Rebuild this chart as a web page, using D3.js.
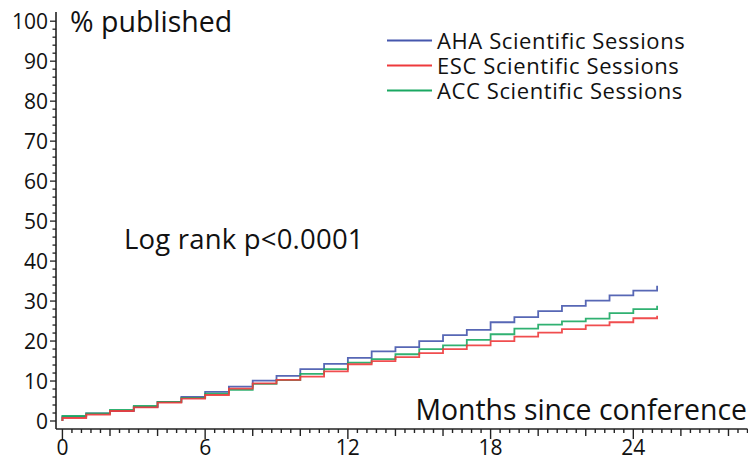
<!DOCTYPE html>
<html><head><meta charset="utf-8">
<script src="https://cdn.jsdelivr.net/npm/d3@7"></script>
<style>
html,body{margin:0;padding:0;background:#fff;}
svg text{font-family:"Open Sans",sans-serif;fill:#111;}
</style></head>
<body><svg id="c" width="748" height="460"></svg>
<script>
const months = d3.range(0, 26);
const ahaValues = [1.1,1.9,2.5,3.5,4.8,6.0,7.3,8.6,10.1,11.3,13.0,14.3,15.8,17.4,18.5,20.0,21.5,22.8,24.7,26.0,27.5,28.8,30.1,31.4,32.6,33.8];
const accValues = [1.25,1.9,2.75,3.75,4.8,5.8,6.85,7.8,9.3,10.2,11.8,13.0,14.6,15.5,16.7,18.0,18.9,20.3,21.7,23.1,24.1,24.9,25.6,27.0,28.0,28.8];
const escValues = [0.75,1.6,2.5,3.4,4.6,5.6,6.5,8.1,9.4,10.3,11.1,12.4,14.2,15.0,16.0,17.0,18.0,18.9,20.0,21.1,22.1,23.0,23.9,24.7,25.7,26.3];
const seriesNames = ["AHA Scientific Sessions","ESC Scientific Sessions","ACC Scientific Sessions"];
const seriesColors = ["#4557ad","#ee3a3c","#1aa862"];
const xTickLabels = [0,6,12,18,24];
const yTickLabels = [0,10,20,30,40,50,60,70,80,90,100];

const svg = d3.select("#c");
const x = d3.scaleLinear().domain([-0.27, 28.8]).range([56, 747.5]);
const y = d3.scaleLinear().domain([-2, 102.3]).range([429, 12]);

// axes
const gx = svg.append("g");
gx.append("line").attr("x1", x.range()[0]).attr("x2", x.range()[1]).attr("y1", y(-2)).attr("y2", y(-2)).attr("stroke","#222").attr("stroke-width",1.6);
const minorX = d3.range(0, 73).map(i => i * 0.4).filter(v => v <= 28.8);
minorX.forEach(v => {
  const r = Math.round(v*10)/10;
  let len = 4;
  if (Math.abs(r % 6) < 1e-6) len = 10; else if (Math.abs(r % 2) < 1e-6) len = 7;
  gx.append("line").attr("x1", x(r)).attr("x2", x(r)).attr("y1", y(-2)).attr("y2", y(-2) + len).attr("stroke","#222").attr("stroke-width",1.4);
});
gx.selectAll("text.xt").data(xTickLabels).enter().append("text").attr("class","xt")
  .attr("x", d => x(d)).attr("y", 455).attr("text-anchor","middle").attr("font-size",21).text(d => d);

const gy = svg.append("g");
gy.append("line").attr("x1", 56).attr("x2", 56).attr("y1", y(102.3)).attr("y2", y(-2)).attr("stroke","#222").attr("stroke-width",1.6);
d3.range(0, 102, 2).forEach(v => {
  const len = v % 10 === 0 ? 6 : 3.5;
  gy.append("line").attr("x1", 56 - len).attr("x2", 56).attr("y1", y(v)).attr("y2", y(v)).attr("stroke","#222").attr("stroke-width",1.3);
});
gy.selectAll("text.yt").data(yTickLabels).enter().append("text").attr("class","yt")
  .attr("x", 48).attr("y", d => y(d) + 7.5).attr("text-anchor","end").attr("font-size",21).text(d => d);

// lines
const line = d3.line().x(d => x(d[0])).y(d => y(d[1])).curve(d3.curveStepAfter);
const data = [ahaValues, accValues, escValues];
const colorIdx = [0, 2, 1];
data.forEach((vals, i) => {
  const pts = [[0, 0]].concat(months.map((m, j) => [m, vals[j]]));
  svg.append("path").attr("d", line(pts)).attr("fill","none")
    .attr("stroke", seriesColors[colorIdx[i]]).attr("stroke-width",1.8).attr("stroke-opacity",0.9);
});

// legend
seriesNames.forEach((n, i) => {
  const yy = 40.5 + i * 25;
  svg.append("line").attr("x1",387).attr("x2",432).attr("y1",yy).attr("y2",yy).attr("stroke",seriesColors[i]).attr("stroke-width",2);
  svg.append("text").attr("x",437).attr("y",yy+8).attr("font-size",22).attr("letter-spacing",0.6).text(n);
});

svg.append("text").attr("x",70).attr("y",32).attr("font-size",28.5).text("% published");
svg.append("text").attr("x",124).attr("y",249).attr("font-size",27.5).attr("letter-spacing",0.2).text("Log rank p<0.0001");
svg.append("text").attr("x",747).attr("y",420).attr("text-anchor","end").attr("font-size",28.4).text("Months since conference");
</script></body></html>
